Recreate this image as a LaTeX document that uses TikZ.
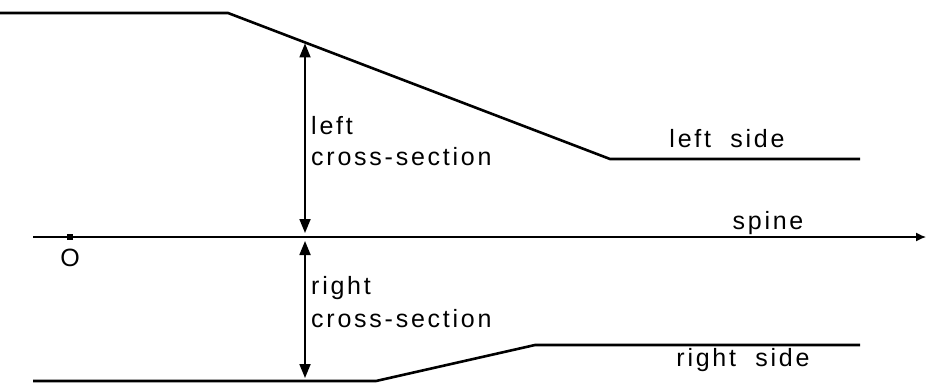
\documentclass[tikz,border=0pt]{standalone}
\usepackage{fontspec}
\setmainfont{Liberation Sans}[LetterSpace=11]
\usetikzlibrary{arrows.meta,positioning}

\begin{document}
\begin{tikzpicture}[
    x=1pt, y=-1pt,
    side/.style={line width=2.6pt, line join=round},
    axis/.style={line width=1.3pt, -{Latex[length=10pt,width=9pt]}},
    dim/.style={line width=1.8pt, {Triangle[length=14pt,width=11pt]}-{Triangle[length=14pt,width=11pt]}},
    lab/.style={font=\fontsize{25}{31}\selectfont, inner sep=0pt}
]
  \useasboundingbox (0,0) rectangle (926,386);

  % left side
  \coordinate (l0) at (0,13);
  \coordinate (l1) at (228,13);
  \coordinate (l2) at (610,159);
  \coordinate (l3) at (860,159);
  \draw[side] (l0) -- (l1) -- (l2) -- (l3);
  \node[lab, anchor=base] (lside) at (727,147) {left\ \ side};

  % right side
  \coordinate (r0) at (33,381);
  \coordinate (r1) at (376,381);
  \coordinate (r2) at (535,345);
  \coordinate (r3) at (860,345);
  \draw[side] (r0) -- (r1) -- (r2) -- (r3);
  \node[lab, anchor=base] (rside) at (743,366) {right\ \ side};

  % spine
  \coordinate (s0) at (33,237);
  \coordinate (s1) at (926,237);
  \draw[axis] (s0) -- (s1);
  \node[lab, anchor=base] (spine) at (768,229) {spine};

  % origin
  \node[fill, minimum size=6pt, inner sep=0pt] (orig) at (70,237) {};
  \node[lab, below=9pt of orig] (olab) {O};

  % cross-sections
  \path (l1) -- (l2) coordinate[pos=0.2016] (lc);
  \coordinate (sc) at (lc |- s0);
  \coordinate (rc) at (lc |- r0);
  \draw[dim, shorten <=1pt, shorten >=4pt] (lc) -- (sc);
  \draw[dim, shorten <=4pt, shorten >=3pt] (sc) -- (rc);
  \node[lab, align=left, anchor=north west] (lcs) at (311,116) {left\\cross-section};
  \node[lab, align=left, anchor=north west, font=\fontsize{25}{33}\selectfont] (rcs) at (311,276) {right\\cross-section};
\end{tikzpicture}
\end{document}
